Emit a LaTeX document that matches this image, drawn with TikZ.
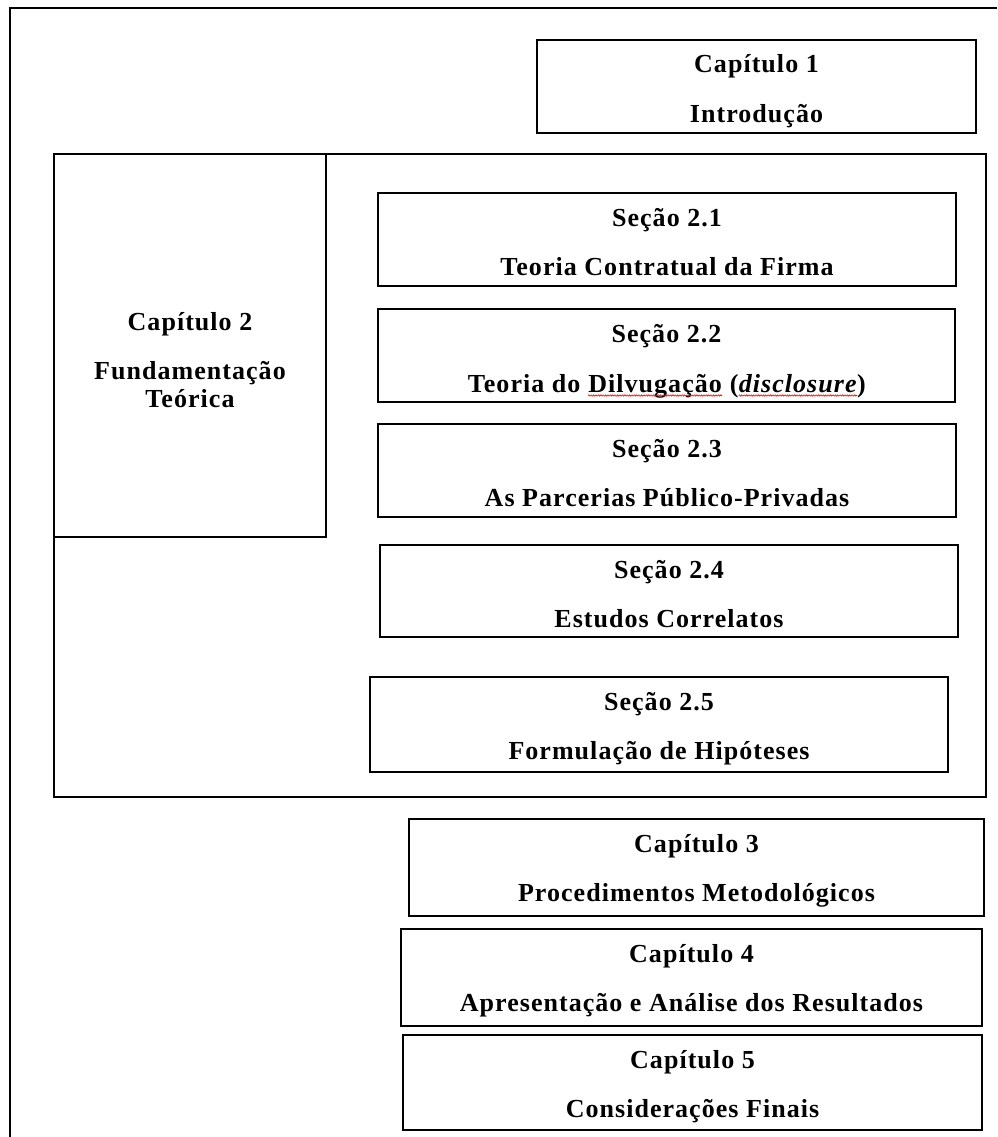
\documentclass[tikz,border=0pt]{standalone}
\usepackage{fontspec}
\setmainfont{Liberation Serif}
\newfontfamily\boxfont{Liberation Serif}[LetterSpace=4]
\usetikzlibrary{decorations.pathmorphing}
\newcommand\chapbox[5]{%
  \node[bx, minimum width={(#4)-(#2)}, minimum height={(#5)-(#3)}]
    (#1) at ({((#2)+(#4))/2},{((#3)+(#5))/2}) {};}
\begin{document}
\begin{tikzpicture}[x=1pt,y=-1pt,
  bx/.style={draw, line width=1.6pt, inner sep=0pt, outer sep=0pt},
  frame/.style={line width=1.6pt},
  tx/.style={anchor=base, inner sep=0pt, font=\boxfont\bfseries\fontsize{26}{30}\selectfont},
  squig/.style={red, line width=0.6pt, decorate, decoration={zigzag, amplitude=0.7pt, segment length=2.4pt}}]
\useasboundingbox (0,0) rectangle (997,1137);
\coordinate (ftr) at (997,8);
\coordinate (ftl) at (10,8);
\coordinate (fbl) at (10,1137);
\draw[frame] (ftr) -- (ftl) -- (fbl);

\chapbox{c1}{537}{40}{976}{133}
\chapbox{ch2}{54}{154}{986}{797}
\chapbox{c2}{54}{154}{326}{537}
\chapbox{s21}{378}{193}{956}{286}
\chapbox{s22}{378}{309}{955}{402}
\chapbox{s23}{378}{424}{956}{517}
\chapbox{s24}{380}{545}{958}{637}
\chapbox{s25}{370}{677}{948}{772}
\chapbox{c3}{409}{819}{984}{916}
\chapbox{c4}{401}{929}{982}{1026}
\chapbox{c5}{403}{1035}{982}{1130}

\node[tx] (c1a) at ([yshift=-33pt]c1.north) {Capítulo 1};
\node[tx] (c1b) at ([yshift=-82pt]c1.north) {Introdução};

\node[tx] (c2a) at ([yshift=-176pt]c2.north) {Capítulo 2};
\node[tx] (c2b) at ([yshift=-225pt]c2.north) {Fundamentação};
\node[tx] (c2c) at ([yshift=-253pt]c2.north) {Teórica};

\node[tx] (s21a) at ([yshift=-33pt]s21.north) {Seção 2.1};
\node[tx] (s21b) at ([yshift=-82pt]s21.north) {Teoria Contratual da Firma};

\node[tx] (s22a) at ([yshift=-33pt]s22.north) {Seção 2.2};
\node[tx, text opacity=0] (s22b) at ([yshift=-83pt]s22.north)
  {Teoria do Dilvugação (\textit{disclosure})};
\node[tx, anchor=base west] (s22p1) at (s22b.base west) {Teoria do\ \null};
\node[tx, anchor=base west] (s22p2) at (s22p1.base east) {Dilvugação};
\node[tx, anchor=base west] (s22p3) at (s22p2.base east) {\null\ (};
\node[tx, anchor=base west] (s22p4) at (s22p3.base east) {\itshape disclosure};
\node[tx, anchor=base west] (s22p5) at (s22p4.base east) {)};
\draw[squig] ([yshift=-3.5pt]s22p2.base west) -- ([yshift=-3.5pt]s22p2.base east);
\draw[squig] ([yshift=-3.5pt]s22p4.base west) -- ([yshift=-3.5pt]s22p4.base east);

\node[tx] (s23a) at ([yshift=-33pt]s23.north) {Seção 2.3};
\node[tx] (s23b) at ([yshift=-82pt]s23.north) {As Parcerias Público-Privadas};

\node[tx] (s24a) at ([yshift=-33pt]s24.north) {Seção 2.4};
\node[tx] (s24b) at ([yshift=-82pt]s24.north) {Estudos Correlatos};

\node[tx] (s25a) at ([yshift=-33pt]s25.north) {Seção 2.5};
\node[tx] (s25b) at ([yshift=-82pt]s25.north) {Formulação de Hipóteses};

\node[tx] (c3a) at ([yshift=-33pt]c3.north) {Capítulo 3};
\node[tx] (c3b) at ([yshift=-82pt]c3.north) {Procedimentos Metodológicos};

\node[tx] (c4a) at ([yshift=-33pt]c4.north) {Capítulo 4};
\node[tx] (c4b) at ([yshift=-82pt]c4.north) {Apresentação e Análise dos Resultados};

\node[tx] (c5a) at ([yshift=-33pt]c5.north) {Capítulo 5};
\node[tx] (c5b) at ([yshift=-82pt]c5.north) {Considerações Finais};
\end{tikzpicture}
\end{document}
